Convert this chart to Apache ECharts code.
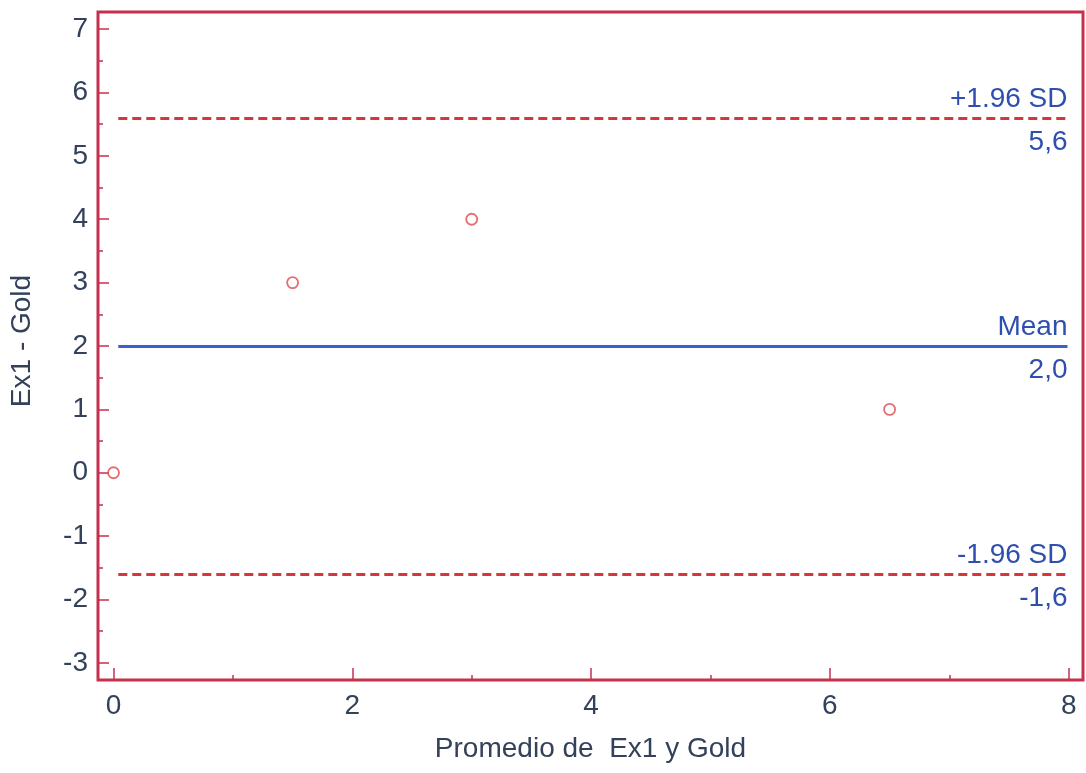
<!DOCTYPE html>
<html>
<head>
<meta charset="utf-8">
<title>Bland-Altman: Ex1 vs Gold</title>
<script src="https://cdn.jsdelivr.net/npm/echarts@6/dist/echarts.min.js"></script>
<style>
  html, body { margin: 0; padding: 0; background: #ffffff; }
  #chart { width: 1086px; height: 773px; }
</style>
</head>
<body>
<div id="chart"></div>
<script>
// Average of the two methods (x) and their difference (y)
const avgValues = [0, 1.5, 3, 6.5];
const diffValues = [0, 3, 4, 1];

// Bias and limits of agreement
const meanDiff = 2.0;
const upperLoA = 5.6;
const lowerLoA = -1.6;
const limitLabels = ['+1.96 SD', '5,6', 'Mean', '2,0', '-1.96 SD', '-1,6'];

// Axis ticks
const yTickValues = [-3, -2, -1, 0, 1, 2, 3, 4, 5, 6, 7];
const yMinorValues = [-2.5, -1.5, -0.5, 0.5, 1.5, 2.5, 3.5, 4.5, 5.5, 6.5];
const xTickValues = [0, 2, 4, 6, 8];
const xMinorValues = [1, 3, 5, 7];

const frameColor = '#c5304c';
const textColor = '#33425a';
const labelBlue = '#2f4fae';
const font = 'Liberation Sans, Arial, sans-serif';

const points = avgValues.map((x, i) => [x, diffValues[i]]);

// One visible line with its caption above, plus an invisible twin carrying the value below
function limitLine(y, x0, x1, color, type, top, bottom) {
  return [
    [
      { coord: [x0, y], lineStyle: { color: color, width: 3, type: type },
        label: { show: true, position: 'insideEndTop', formatter: top, color: labelBlue,
                 fontSize: 28, fontFamily: font, distance: [0, 5] } },
      { coord: [x1, y] }
    ],
    [
      { coord: [x0, y], lineStyle: { color: 'rgba(255,255,255,0)', width: 1, type: 'solid' },
        label: { show: true, position: 'insideEndBottom', formatter: bottom, color: labelBlue,
                 fontSize: 28, fontFamily: font, distance: [0, 10] } },
      { coord: [x1, y] }
    ]
  ];
}

const chart = echarts.init(document.getElementById('chart'), null, { renderer: 'canvas' });

const xBase = {
  type: 'value', min: -0.13, max: 8.12,
  axisLine: { show: false, onZero: false }, splitLine: { show: false }
};
const yBase = {
  type: 'value', min: -3.27, max: 7.27,
  axisLine: { show: false, onZero: false }, splitLine: { show: false }
};

chart.setOption({
  backgroundColor: '#ffffff',
  animation: false,
  grid: {
    left: 98, right: 3, top: 12, bottom: 93,
    show: true, borderColor: frameColor, borderWidth: 3, backgroundColor: 'transparent'
  },
  xAxis: [
    Object.assign({}, xBase, {
      name: 'Promedio de  Ex1 y Gold', nameLocation: 'middle', nameGap: 55,
      nameTextStyle: { color: textColor, fontSize: 28, fontFamily: font },
      axisTick: { show: true, inside: true, length: 12, customValues: xTickValues,
                  lineStyle: { color: frameColor, width: 1.5 } },
      axisLabel: { show: true, customValues: xTickValues, margin: 12,
                   color: textColor, fontSize: 28, fontFamily: font }
    }),
    Object.assign({}, xBase, {
      position: 'bottom',
      axisTick: { show: true, inside: true, length: 5, customValues: xMinorValues,
                  lineStyle: { color: frameColor, width: 1.5 } },
      axisLabel: { show: false }
    })
  ],
  yAxis: [
    Object.assign({}, yBase, {
      name: 'Ex1 - Gold', nameLocation: 'middle', nameGap: 62,
      nameTextStyle: { color: textColor, fontSize: 28, fontFamily: font, padding: [0, 0, 0, 10] },
      axisTick: { show: true, inside: true, length: 11, customValues: yTickValues,
                  lineStyle: { color: frameColor, width: 1.5 } },
      axisLabel: { show: true, customValues: yTickValues, margin: 10,
                   color: textColor, fontSize: 28, fontFamily: font }
    }),
    Object.assign({}, yBase, {
      position: 'left',
      axisTick: { show: true, inside: true, length: 5, customValues: yMinorValues,
                  lineStyle: { color: frameColor, width: 1.5 } },
      axisLabel: { show: false }
    })
  ],
  series: [
    {
      type: 'scatter',
      xAxisIndex: 0, yAxisIndex: 0,
      data: points,
      symbol: 'circle',
      symbolSize: 11,
      itemStyle: { color: 'rgba(255,255,255,0)', borderColor: '#e0484f', borderWidth: 1.8 },
      markLine: {
        silent: true,
        symbol: 'none',
        data: [].concat(
          limitLine(upperLoA, 0.04, 7.99, '#d8343c', [9, 5], limitLabels[0], limitLabels[1]),
          limitLine(meanDiff, 0.04, 7.99, '#3a62c8', 'solid', limitLabels[2], limitLabels[3]),
          limitLine(lowerLoA, 0.04, 7.99, '#d8343c', [9, 5], limitLabels[4], limitLabels[5])
        )
      }
    }
  ]
});
</script>
</body>
</html>
